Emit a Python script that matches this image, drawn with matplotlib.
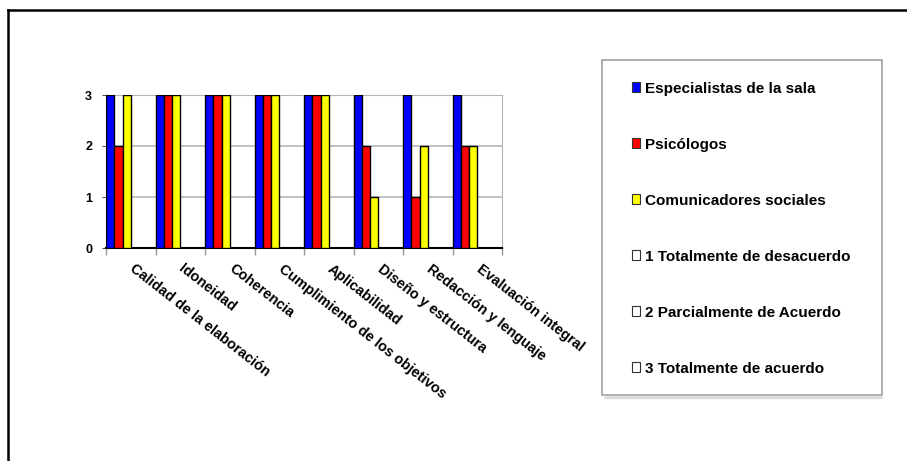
import numpy as np
import matplotlib.pyplot as plt
from matplotlib.patches import Patch, Rectangle
from matplotlib.lines import Line2D

# Datos
categorias = ['Calidad de la elaboración', 'Idoneidad', 'Coherencia',
              'Cumplimiento de los objetivos', 'Aplicabilidad',
              'Diseño y estructura', 'Redacción y lenguaje', 'Evaluación integral']
especialistas = [3, 3, 3, 3, 3, 3, 3, 3]
psicologos = [2, 3, 3, 3, 3, 2, 1, 2]
comunicadores = [3, 3, 3, 3, 3, 1, 2, 2]
series = ['Especialistas de la sala', 'Psicólogos', 'Comunicadores sociales']
escala = ['1 Totalmente de desacuerdo', '2 Parcialmente de Acuerdo', '3 Totalmente de acuerdo']
colores = ['#0000ff', '#ff0000', '#ffff00']

plt.rcParams['font.family'] = ['Liberation Sans', 'DejaVu Sans']
plt.rcParams['font.weight'] = 'bold'

W, H = 907, 461
fig = plt.figure(figsize=(W / 100, H / 100), dpi=100)
ax = fig.add_axes([106 / W, 1 - 248 / H, (502 - 106) / W, (248 - 95) / H])

x = np.arange(len(categorias))
ancho = 0.167
for k, (vals, c) in enumerate(zip([especialistas, psicologos, comunicadores], colores)):
    ax.bar(x + k * ancho, vals, width=ancho, align='edge', color=c,
           edgecolor='black', linewidth=1, zorder=3)

ax.set_xlim(0, len(categorias))
ax.set_ylim(0, 3)
ax.set_yticks([0, 1, 2, 3])
ax.set_yticklabels(['0', '1', '2', '3'], fontsize=9, fontweight='bold')
ax.grid(axis='y', color='#b5b5b5', linewidth=1.2, zorder=0)

# ticks en los bordes de categoria, etiquetas giradas desde el centro
ax.set_xticks(np.arange(len(categorias) + 1))
ax.set_xticklabels([])
ax.tick_params(axis='x', length=5, color='#999999', width=1)
ax.tick_params(axis='y', length=3, color='#555555', pad=7)
for i, cat in enumerate(categorias):
    ax.text(i + 0.6, -0.27, cat, rotation=-38, rotation_mode='anchor',
            ha='left', va='top', fontsize=10.4, fontweight='bold')

for s in ['top', 'right', 'left']:
    ax.spines[s].set_color('#b5b5b5')
ax.spines['bottom'].set_color('black')
ax.spines['bottom'].set_linewidth(1.5)

# Leyenda
handles = [Patch(facecolor=c, edgecolor='#333333', linewidth=0.8) for c in colores]
handles += [Patch(facecolor='white', edgecolor='#333333', linewidth=0.8) for _ in escala]
fig.add_artist(Line2D([604 / W, 882 / W], [1 - 397 / H, 1 - 397 / H],
                      color='#dcdcdc', linewidth=2.5, solid_capstyle='butt'))
fig.add_artist(Rectangle((602 / W, 1 - 395 / H), 280 / W, 335 / H,
                         transform=fig.transFigure, facecolor='white',
                         edgecolor='#a0a0a0', linewidth=1.2))
fig.legend(handles, series + escala, loc='upper left',
           bbox_to_anchor=(624 / W, 1 - 74 / H), frameon=False,
           fontsize=11, labelspacing=2.75, handlelength=0.55, handleheight=0.6,
           handletextpad=0.3, borderpad=0)

# Marco exterior
fig.add_artist(Line2D([8 / W, 1], [1 - 10 / H, 1 - 10 / H], color='black', linewidth=1.8))
fig.add_artist(Line2D([8 / W, 8 / W], [0, 1 - 10 / H], color='black', linewidth=1.8))

fig.savefig('out.png', dpi=100)
